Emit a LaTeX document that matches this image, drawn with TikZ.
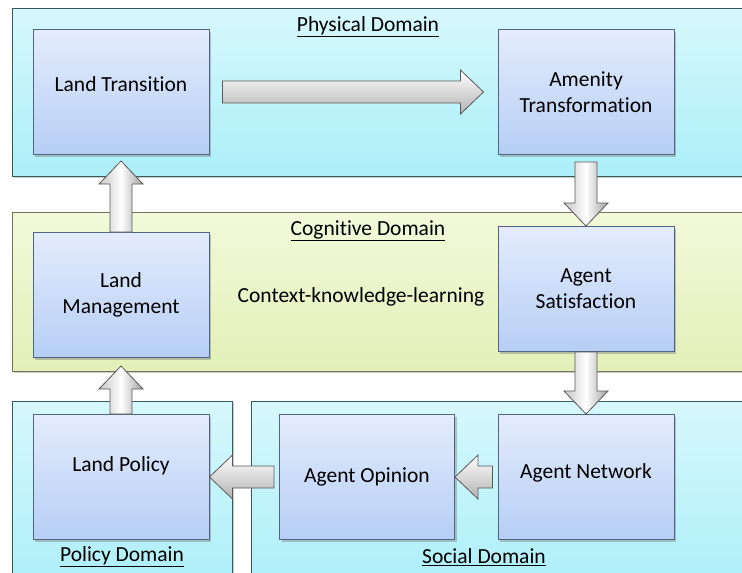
\documentclass[tikz,border=0pt]{standalone}
\usepackage{fontspec}
\setmainfont[Ligatures=NoCommon]{Carlito}
\usepackage{tikz}
\usetikzlibrary{calc,shadows}

\definecolor{physfill}{RGB}{172,239,248}
\definecolor{phystop}{RGB}{214,248,252}
\definecolor{cogfill}{RGB}{226,240,184}
\definecolor{cogtop}{RGB}{243,249,218}
\definecolor{boxtop}{RGB}{228,236,252}
\definecolor{boxbot}{RGB}{182,206,245}
\definecolor{boxline}{RGB}{80,100,132}

\tikzset{
  blockarrow/.style={to path={let \p1=(\tikztostart), \p2=(\tikztotarget),
      \n1={veclen(\x2-\x1,\y2-\y1)}, \n2={(\x2-\x1)/\n1}, \n3={(\y2-\y1)/\n1} in
      ({\x1-(\n3)*11pt},{\y1+(\n2)*11pt})
      -- ({\x2-(\n2)*23pt-(\n3)*11pt},{\y2-(\n3)*23pt+(\n2)*11pt})
      -- ({\x2-(\n2)*23pt-(\n3)*22pt},{\y2-(\n3)*23pt+(\n2)*22pt})
      -- (\p2)
      -- ({\x2-(\n2)*23pt+(\n3)*22pt},{\y2-(\n3)*23pt-(\n2)*22pt})
      -- ({\x2-(\n2)*23pt+(\n3)*11pt},{\y2-(\n3)*23pt-(\n2)*11pt})
      -- ({\x1+(\n3)*11pt},{\y1-(\n2)*11pt}) -- cycle}},
  harrow/.style={blockarrow, draw=black!65, line width=0.8pt, top color=white, bottom color=gray!60},
  varrow/.style={blockarrow, draw=black!65, line width=0.8pt, left color=gray!45, right color=gray!75, middle color=white},
  domainbox/.style={line width=1pt, drop shadow={shadow xshift=2pt, shadow yshift=-2pt, opacity=0.4}},
  procbox/.style={draw=boxline, line width=1pt, top color=boxtop, bottom color=boxbot,
    minimum width=176pt, minimum height=125pt, align=center,
    drop shadow={shadow xshift=2pt, shadow yshift=-2pt, opacity=0.45}},
  dlabel/.style={inner sep=1pt}
}

\begin{document}
\begin{tikzpicture}[x=1pt,y=-1pt,font=\fontsize{21.5}{26}\selectfont]
\useasboundingbox (0,0) rectangle (742,573);
\fill[white] (0,0) rectangle (742,573);

% domains
\draw[domainbox, draw=black!45!teal!60!gray, top color=phystop, bottom color=physfill] (12,8) rectangle (760,176);
\draw[domainbox, draw=black!45!olive!50!gray, top color=cogtop, bottom color=cogfill] (12,212) rectangle (760,371);
\draw[domainbox, draw=black!45!teal!60!gray, top color=phystop, bottom color=physfill] (12,401) rectangle (232,590);
\draw[domainbox, draw=black!45!teal!60!gray, top color=phystop, bottom color=physfill] (251,401) rectangle (760,590);

\node[dlabel] (physical) at (368,27) {\underline{Physical Domain}};
\node[dlabel] (cognitive) at (368,231) {\underline{Cognitive Domain}};
\node[dlabel] (policy) at (122,557) {\underline{Policy Domain}};
\node[dlabel] (social) at (484,557) {\underline{Social Domain}};
\node (context) at (361,297) {Context-knowledge-learning};

% processes
\node[procbox, text depth=15pt] (lt) at (121,92) {Land Transition};
\node[procbox] (at) at (586,92) {Amenity\\Transformation};
\node[procbox] (lm) at (121,295) {Land\\Management};
\node[procbox] (as) at (586,289) {Agent\\Satisfaction};
\node[procbox, text depth=25pt] (lp) at (121,477) {Land Policy};
\node[procbox, minimum width=175pt] (ao) at (367,477) {Agent Opinion};
\node[procbox, text depth=11pt] (an) at (586,477) {Agent Network};

% flows
\draw[harrow] ([xshift=13pt]lt.east) to ([xshift=-14pt]at.west);
\draw[varrow] ([yshift=-7pt]at.south) to (as.north);
\draw[varrow] (as.south) to (an.north);
\draw[harrow] ([xshift=-5pt]an.west) to (ao.east);
\draw[harrow] ([xshift=-5pt]ao.west) to (lp.east);
\draw[varrow] (lp.north) to ([yshift=-8pt]lm.south);
\draw[varrow] (lm.north) to ([yshift=-6pt]lt.south);
\end{tikzpicture}
\end{document}
